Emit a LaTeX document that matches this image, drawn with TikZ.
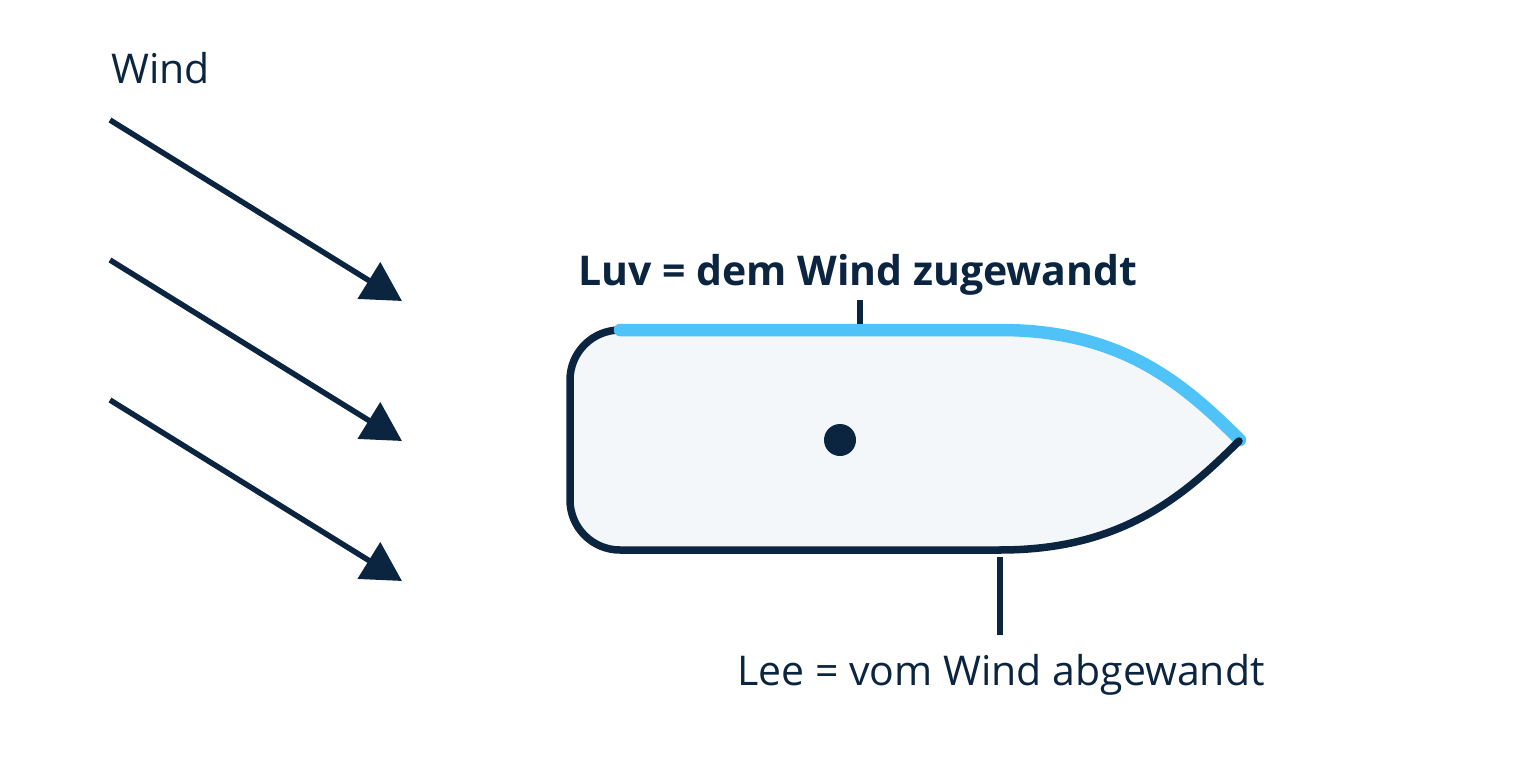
\documentclass[tikz,border=0pt]{standalone}
\usepackage{fontspec}
\setmainfont{Open Sans}
\usetikzlibrary{arrows.meta}
\definecolor{navy}{HTML}{0B2540}
\definecolor{luvblue}{HTML}{4FC3F7}
\definecolor{hullfill}{HTML}{F3F7FA}
\tikzset{
  windarrow/.style={draw=navy, line width=5.5pt, -{Triangle[length=39pt,width=42pt]}},
  labeltext/.style={inner sep=0pt, text=navy, font=\fontsize{41}{48}\selectfont},
  tickline/.style={draw=navy, line width=6pt},
  hullline/.style={draw=navy, line width=7.5pt, line cap=round},
}
\begin{document}
\begin{tikzpicture}[x=1pt,y=-1pt]
\useasboundingbox (0,0) rectangle (1520,760);
\fill[white] (0,0) rectangle (1520,760);
% wind
\node[labeltext, anchor=base west] (wind) at (111,84) {Wind};
\foreach \i/\y in {1/120,2/260,3/400}{
  \coordinate (ws\i) at (110,\y);
  \coordinate (we\i) at (402,\y+181);
  \draw[windarrow] (ws\i) -- (we\i);
}
% hull
\coordinate (bow) at (1240,440);
\fill[hullfill] (620,330) -- (1000,330) .. controls (1120,330) and (1182,382) .. (bow)
  .. controls (1182,498) and (1120,550) .. (1000,550) -- (620,550)
  arc[start angle=90, end angle=180, radius=50] -- (570,380)
  arc[start angle=180, end angle=270, radius=50] -- cycle;
\draw[hullline] (1000,330) -- (620,330)
  arc[start angle=270, end angle=180, radius=50] -- (570,500)
  arc[start angle=180, end angle=90, radius=50] -- (1000,550);
\draw[luvblue, line width=12.5pt, line cap=round] (620,330) -- (1000,330)
  .. controls (1120,330) and (1182,382) .. (bow);
\draw[hullline] (1000,550) .. controls (1120,550) and (1182,498) .. (1239,441);
\node[circle, fill=navy, minimum size=32pt, inner sep=0pt] (center) at (840,440) {};
% labels
\node[labeltext, anchor=base west, font=\bfseries\fontsize{41}{48}\selectfont] (luv) at (578,285) {Luv = dem Wind zugewandt};
\coordinate (luvtick) at (860,324);
\draw[tickline] (860,300) -- (luvtick);
\node[labeltext, anchor=base west] (lee) at (737,685) {Lee = vom Wind abgewandt};
\coordinate (leetick) at (1000,557);
\draw[tickline] (leetick) -- (1000,635);
\end{tikzpicture}
\end{document}
